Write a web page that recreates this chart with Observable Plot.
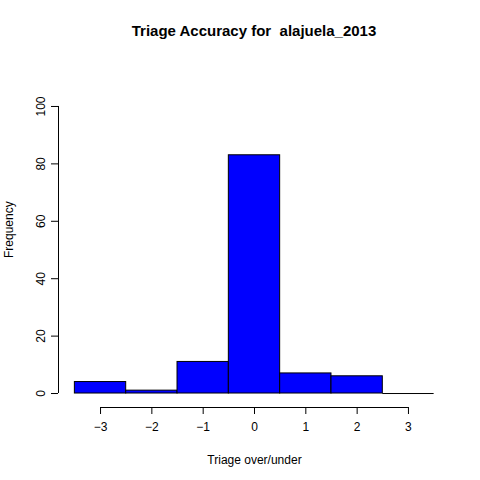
<!DOCTYPE html>
<html>
<head>
<meta charset="utf-8">
<script src="https://cdn.jsdelivr.net/npm/d3@7"></script>
<script src="https://cdn.jsdelivr.net/npm/@observablehq/plot@0.6"></script>
<style>
  body { margin: 0; background: #fff; font-family: "Liberation Sans", Arial, Helvetica, sans-serif; }
  #wrap { width: 480px; height: 480px; }
  #title { height: 60px; line-height: 62px; padding-left: 28px; text-align: center; font-weight: bold; font-size: 15px; white-space: pre; }
</style>
</head>
<body>
<div id="wrap">
  <div id="title">Triage Accuracy for  alajuela_2013</div>
  <div id="chart"></div>
</div>
<script>
// bin centres (width 1) and frequencies
const bins = [-3, -2, -1, 0, 1, 2, 3];
const counts = [4, 1, 11, 83, 7, 6, 0];
const xTicks = [-3, -2, -1, 0, 1, 2, 3];
const yTicks = [0, 20, 40, 60, 80, 100];

const data = bins.map((b, i) => ({x1: b - 0.5, x2: b + 0.5, count: counts[i]}));

const chart = Plot.plot({
  width: 480,
  height: 420,
  marginLeft: 60,
  marginRight: 32,
  marginTop: 34.5,
  marginBottom: 75.5,
  style: {fontFamily: '"Liberation Sans", Arial, Helvetica, sans-serif', fontSize: "12px", color: "#000"},
  x: {domain: [-3.78, 3.78]},
  y: {domain: [-4, 104]},
  marks: [
    Plot.rectY(data.filter(d => d.count > 0), {
      x1: "x1", x2: "x2", y1: 0, y2: "count",
      fill: "#0000ff", stroke: "#000", strokeWidth: 1
    }),
    // empty bins still draw as a flat line
    Plot.ruleY(data.filter(d => d.count === 0), {
      x1: "x1", x2: "x2", y: "count", stroke: "#000"
    }),
    // axis lines
    Plot.ruleY([-4], {x1: -3, x2: 3, dy: 2.5, stroke: "#000"}),
    Plot.ruleX([-3.78], {y1: 0, y2: 100, dx: -2, stroke: "#000"}),
    Plot.axisX(xTicks, {tickSize: 7, dy: 2.5, tickPadding: 8, stroke: "#000", label: null}),
    Plot.axisY(yTicks, {tickSize: 7, dx: -2, tickRotate: -90, tickPadding: 7, stroke: "#000", label: null}),
    Plot.text(["Triage over/under"], {frameAnchor: "bottom", dy: 59, fill: "#000"}),
    Plot.text(["Frequency"], {frameAnchor: "left", rotate: -90, dx: -51, dy: 8, fill: "#000"})
  ]
});
document.getElementById("chart").appendChild(chart);
</script>
</body>
</html>
